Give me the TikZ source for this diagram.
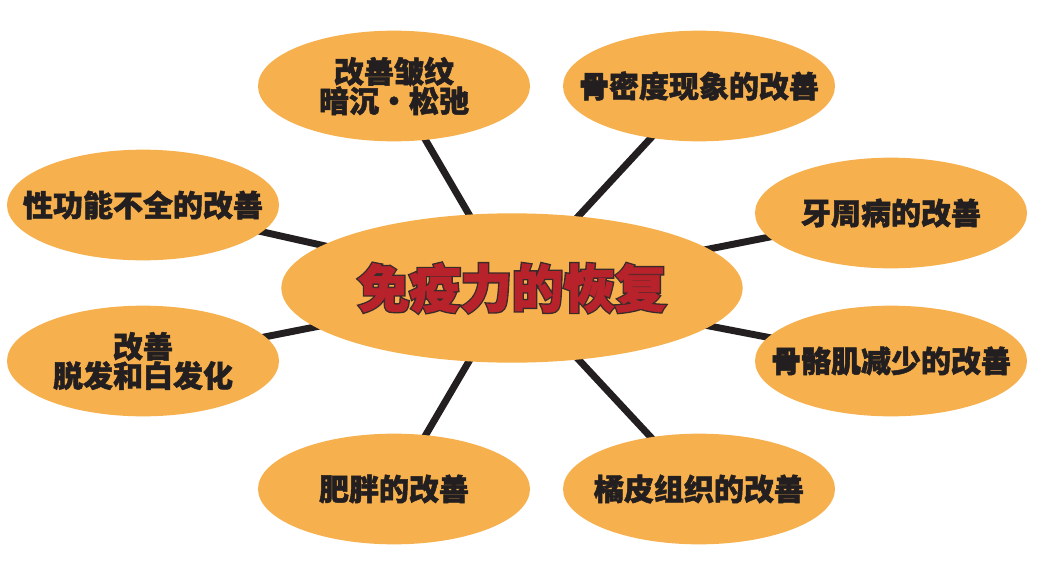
\documentclass[tikz,border=0pt]{standalone}
\usepackage{fontspec}
\newfontfamily\cjk{Noto Sans CJK SC}[BoldFeatures={FakeBold=1.6}]
\newfontfamily\cjkcontour{Noto Sans CJK SC}[BoldFeatures={FakeBold=7}]
\usetikzlibrary{shapes.geometric, backgrounds}
\definecolor{orangebulle}{HTML}{F6B04D}
\definecolor{traitnoir}{HTML}{231F20}
\definecolor{rougetitre}{HTML}{B8222B}
\definecolor{contourtitre}{HTML}{3A2B2B}

\begin{document}
\begin{tikzpicture}[x=0.75pt, y=-0.75pt, every node/.style={font=\cjk\bfseries, text=traitnoir}]

  % === STYLES ===
  \tikzset{
    bulle/.style={ellipse, fill=orangebulle, inner sep=-30pt, minimum width=204pt, minimum height=83pt,
      align=center, font=\cjk\bfseries\fontsize{22.5}{22}\selectfont},
    centre/.style={ellipse, fill=orangebulle, inner sep=0pt, minimum width=346pt, minimum height=112pt},
    titre/.style={inner sep=0pt, font=\cjk\bfseries\fontsize{38.5}{40}\selectfont},
    lien/.style={draw=traitnoir, line width=5.2pt}
  }

  % === CADRE (1 px = 0.75 pt) ===
  \useasboundingbox (0,0) rectangle (1051,571);

  % === BULLES ===
  \node[centre] (immunite) at (512,288) {};
  \node[bulle] (rides)     at (394,86)  {改善皱纹\\暗沉・松弛};
  \node[bulle] (os)        at (699,86)  {骨密度现象的改善};
  \node[bulle] (sexe)      at (143,205) {性功能不全的改善};
  \node[bulle] (dents)     at (891,213) {牙周病的改善};
  \node[bulle] (cheveux)   at (143,361) {改善\\脱发和白发化};
  \node[bulle] (muscle)    at (891,361) {骨骼肌减少的改善};
  \node[bulle] (obesite)   at (394,489) {肥胖的改善};
  \node[bulle] (cellulite) at (699,489) {橘皮组织的改善};

  % === LIENS (sous les bulles) ===
  \begin{scope}[on background layer]
    \foreach \b in {rides, os, sexe, dents, cheveux, muscle, obesite, cellulite}
      \draw[lien] (immunite.center) -- (\b.center);
  \end{scope}

  % === TITRE (contour + texte rouge) ===
  \node[titre, text=contourtitre, font=\cjkcontour\bfseries\fontsize{38.5}{40}\selectfont] (contour) at (immunite) {免疫力的恢复};
  \node[titre, text=rougetitre] (titre) at (immunite) {免疫力的恢复};

\end{tikzpicture}
\end{document}
